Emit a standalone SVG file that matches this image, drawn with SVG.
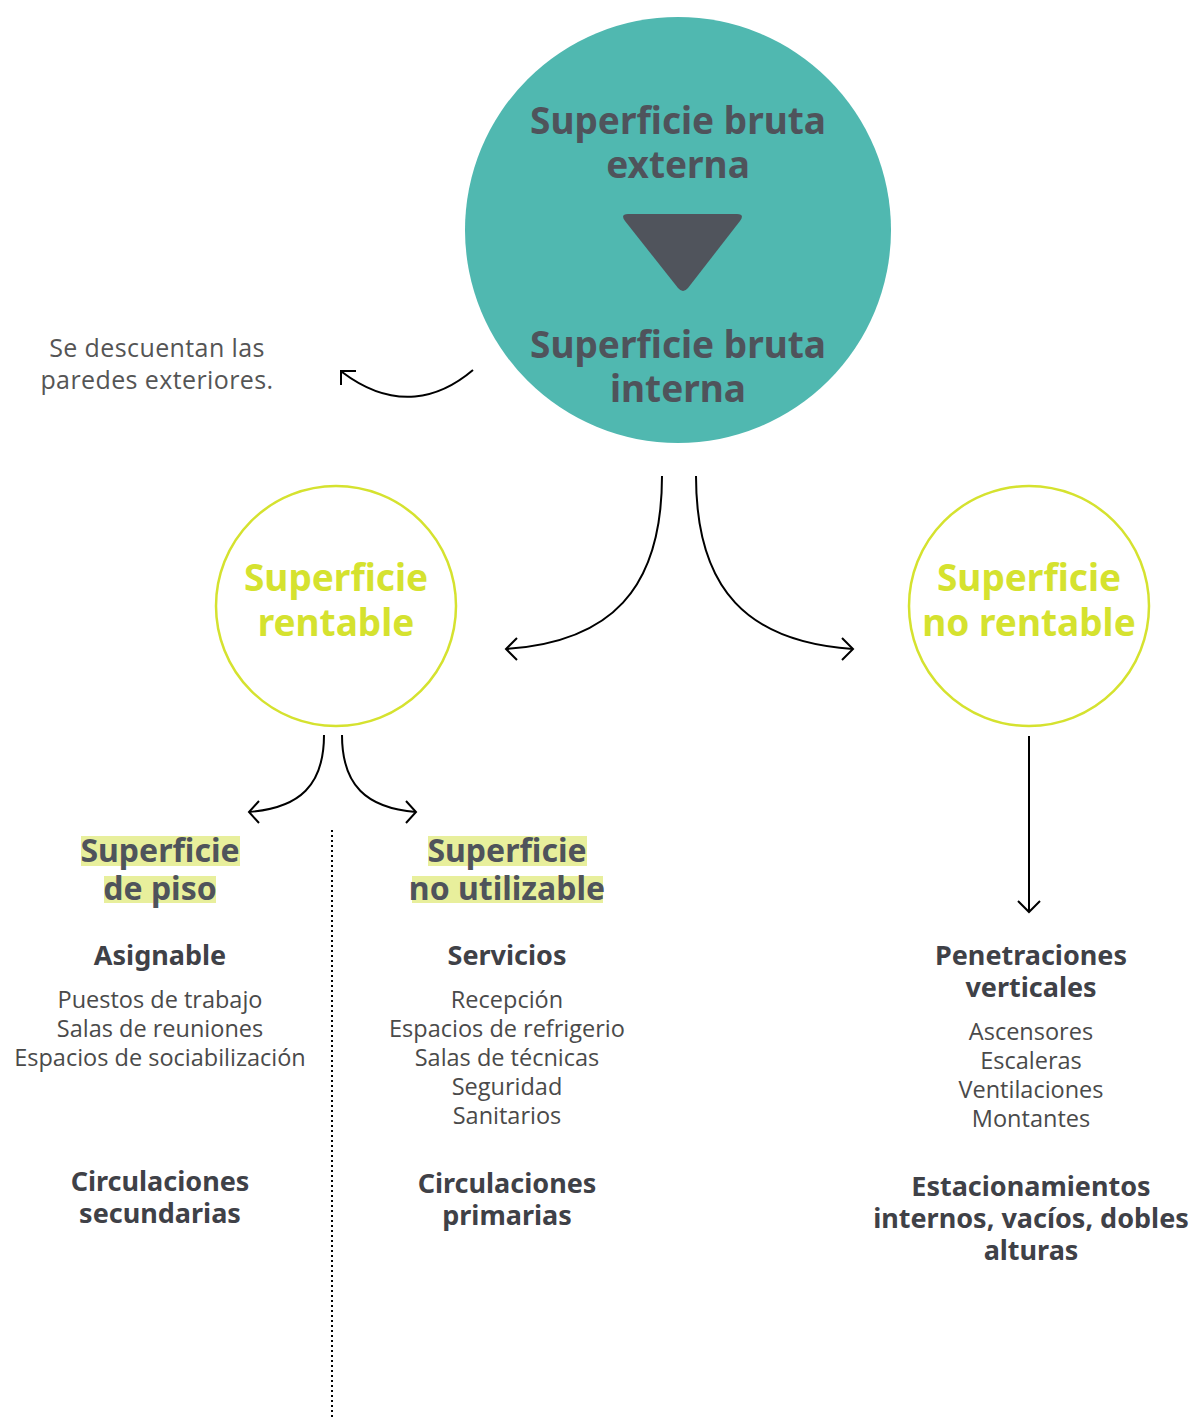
<svg xmlns="http://www.w3.org/2000/svg" width="1191" height="1418" viewBox="0 0 1191 1418">
<defs>
<style>
.h{font-family:"Noto Sans",sans-serif;font-weight:700;text-anchor:middle;font-variant-ligatures:none}
.big{font-size:37px;fill:#4f535b}
.lime{font-size:37px;fill:#d5e22f}
.sub{font-size:32px;fill:#4f535b}
.cat{font-size:27px;fill:#3f4147}
.b{font-family:"Open Sans",sans-serif;font-size:23.5px;fill:#4a4a4a;text-anchor:middle}
.note{font-family:"Open Sans",sans-serif;font-size:25px;fill:#555;text-anchor:middle;letter-spacing:0.4px}
.hl{fill:#e8ef9c}
.ring{fill:#fff;stroke:#d5e22f;stroke-width:2.5}
.con{fill:none;stroke:#000;stroke-width:2}
</style>
</defs>
<rect width="1191" height="1418" fill="#fff"/>
<g id="externa">
<circle cx="678" cy="230" r="213" fill="#50b8b0"/>
<text class="h big" x="678" y="134">Superficie bruta</text>
<text class="h big" x="678" y="178">externa</text>
<path d="M628,214 L737,214 Q745,214 740,221 L688,288 Q683,294 678,288 L625,221 Q620,214 628,214 Z" fill="#50545c"/>
<text class="h big" x="678" y="358">Superficie bruta</text>
<text class="h big" x="678" y="402">interna</text>
</g>
<g id="nota">
<text class="note" x="157" y="357">Se descuentan las</text>
<text class="note" x="157" y="389">paredes exteriores.</text>
</g>
<g id="rentable">
<circle class="ring" cx="336" cy="606" r="120"/>
<text class="h lime" x="336" y="591">Superficie</text>
<text class="h lime" x="336" y="636">rentable</text>
</g>
<g id="norentable">
<circle class="ring" cx="1029" cy="606" r="120"/>
<text class="h lime" x="1029" y="591">Superficie</text>
<text class="h lime" x="1029" y="636">no rentable</text>
</g>
<g id="piso">
<rect class="hl" x="81" y="836" width="159" height="30"/>
<rect class="hl" x="104" y="876" width="112" height="27"/>
<text class="h sub" x="160" y="862">Superficie</text>
<text class="h sub" x="160" y="900">de piso</text>
<text class="h cat" x="160" y="965">Asignable</text>
<text class="b" x="160" y="1008">Puestos de trabajo</text>
<text class="b" x="160" y="1037">Salas de reuniones</text>
<text class="b" x="160" y="1066">Espacios de sociabilización</text>
<text class="h cat" x="160" y="1191">Circulaciones</text>
<text class="h cat" x="160" y="1223">secundarias</text>
</g>
<g id="noutil">
<rect class="hl" x="428" y="836" width="159" height="30"/>
<rect class="hl" x="412" y="876" width="191" height="27"/>
<text class="h sub" x="507" y="862">Superficie</text>
<text class="h sub" x="507" y="900">no utilizable</text>
<text class="h cat" x="507" y="965">Servicios</text>
<text class="b" x="507" y="1008">Recepción</text>
<text class="b" x="507" y="1037">Espacios de refrigerio</text>
<text class="b" x="507" y="1066">Salas de técnicas</text>
<text class="b" x="507" y="1095">Seguridad</text>
<text class="b" x="507" y="1124">Sanitarios</text>
<text class="h cat" x="507" y="1193">Circulaciones</text>
<text class="h cat" x="507" y="1225">primarias</text>
</g>
<g id="penetraciones">
<text class="h cat" x="1031" y="965">Penetraciones</text>
<text class="h cat" x="1031" y="997">verticales</text>
<text class="b" x="1031" y="1040">Ascensores</text>
<text class="b" x="1031" y="1069">Escaleras</text>
<text class="b" x="1031" y="1098">Ventilaciones</text>
<text class="b" x="1031" y="1127">Montantes</text>
<text class="h cat" x="1031" y="1196">Estacionamientos</text>
<text class="h cat" x="1031" y="1228">internos, vacíos, dobles</text>
<text class="h cat" x="1031" y="1260">alturas</text>
</g>
<g id="connectors">
<path class="con" d="M473,370 C440,398 395,412 342,372"/>
<path class="con" d="M356,371 L341,371 L341,385"/>
<path class="con" d="M662,476 C662,590 610,642 506,649"/>
<path class="con" d="M517,638 L506,649 L517,660"/>
<path class="con" d="M696,476 C696,590 748,642 853,649"/>
<path class="con" d="M842,638 L853,649 L842,660"/>
<path class="con" d="M324,735 C324,785 300,808 249,812"/>
<path class="con" d="M259,801 L249,812 L259,823"/>
<path class="con" d="M342,735 C342,785 366,808 416,812"/>
<path class="con" d="M406,801 L416,812 L406,823"/>
<path class="con" d="M1029,736 L1029,912"/>
<path class="con" d="M1018,901 L1029,912 L1040,901"/>
<line x1="332" y1="830" x2="332" y2="1418" stroke="#000" stroke-width="2" stroke-dasharray="2 3"/>
</g>
</svg>
